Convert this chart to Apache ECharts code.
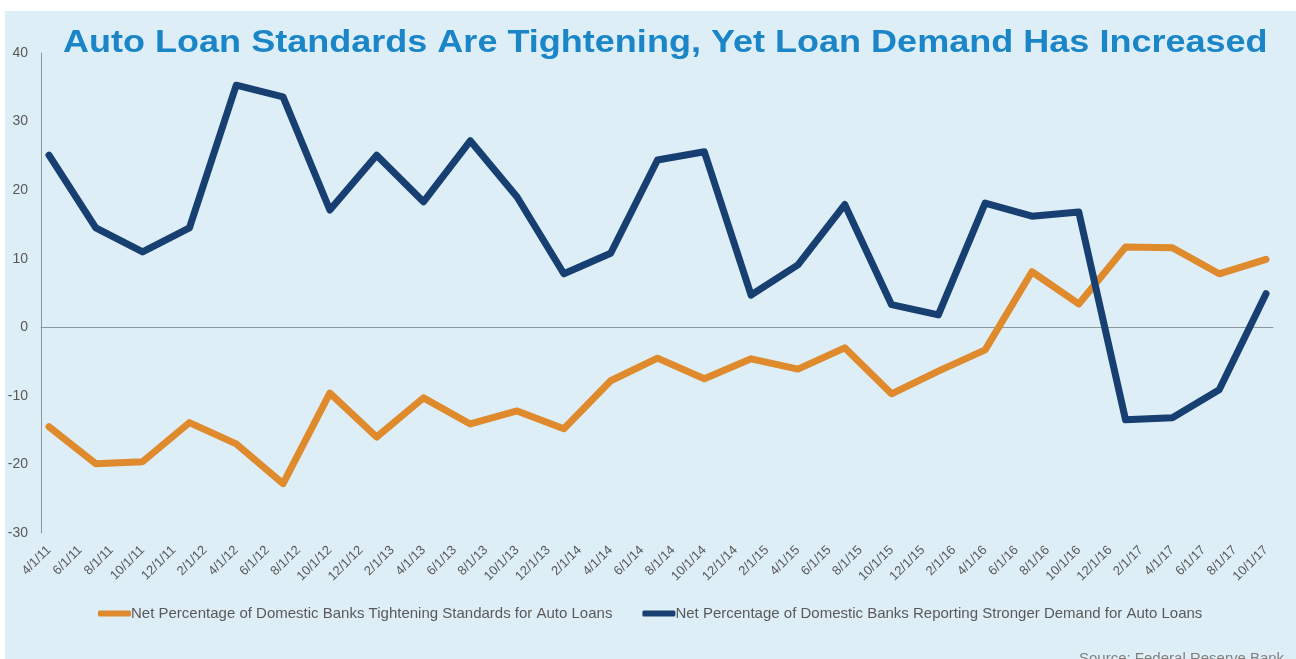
<!DOCTYPE html>
<html>
<head>
<meta charset="utf-8">
<script src="https://cdn.jsdelivr.net/npm/echarts@6/dist/echarts.min.js"></script>
<style>
html,body{margin:0;padding:0;background:#ffffff;}
#chart{width:1296px;height:659px;}
</style>
</head>
<body>
<div id="chart"></div>
<script>
// Quarterly survey dates (data points)
const dates = ['4/1/11','7/1/11','10/1/11','1/1/12','4/1/12','7/1/12','10/1/12','1/1/13','4/1/13','7/1/13','10/1/13','1/1/14','4/1/14','7/1/14','10/1/14','1/1/15','4/1/15','7/1/15','10/1/15','1/1/16','4/1/16','7/1/16','10/1/16','1/1/17','4/1/17','7/1/17','10/1/17'];
// Net % of domestic banks tightening standards for auto loans
const tightening = [-14.5,-19.9,-19.6,-13.9,-17.0,-22.8,-9.6,-16.0,-10.3,-14.1,-12.2,-14.8,-7.8,-4.5,-7.5,-4.6,-6.1,-3.0,-9.7,-6.4,-3.3,8.1,3.4,11.7,11.6,7.8,9.9];
// Net % of domestic banks reporting stronger demand for auto loans
const demand = [25.1,14.5,11.0,14.5,35.3,33.6,17.1,25.1,18.3,27.2,19.0,7.8,10.8,24.4,25.6,4.7,9.1,17.9,3.3,1.8,18.1,16.2,16.8,-13.5,-13.2,-9.1,4.9];
// Axis tick labels (every two months)
const tickLabels = ['4/1/11','6/1/11','8/1/11','10/1/11','12/1/11','2/1/12','4/1/12','6/1/12','8/1/12','10/1/12','12/1/12','2/1/13','4/1/13','6/1/13','8/1/13','10/1/13','12/1/13','2/1/14','4/1/14','6/1/14','8/1/14','10/1/14','12/1/14','2/1/15','4/1/15','6/1/15','8/1/15','10/1/15','12/1/15','2/1/16','4/1/16','6/1/16','8/1/16','10/1/16','12/1/16','2/1/17','4/1/17','6/1/17','8/1/17','10/1/17'];
const seriesNames = ['Net Percentage of Domestic Banks Tightening Standards for Auto Loans','Net Percentage of Domestic Banks Reporting Stronger Demand for Auto Loans'];

function monthIndex(s){
  const p = s.split('/').map(Number);
  return (p[2] - 11) * 12 + (p[0] - 4);
}
const labelByMonth = {};
tickLabels.forEach(function(t){ labelByMonth[monthIndex(t)] = t; });
const tickMonths = tickLabels.map(monthIndex);
const xMin = 0, xMax = monthIndex(dates[dates.length-1]);

const chart = echarts.init(document.getElementById('chart'));
const font = 'Liberation Sans, Arial, sans-serif';
chart.setOption({
  animation:false,
  backgroundColor:'#ffffff',
  textStyle:{fontFamily:font},
  graphic:[
    {type:'rect', z:-10, silent:true, shape:{x:5,y:11,width:1291,height:648}, style:{fill:'#deeef7'}},
    {type:'text', x:63, y:27, scaleX:1.126, style:{text:'Auto Loan Standards Are Tightening, Yet Loan Demand Has Increased', font:'bold 32px '+font, fill:'#1a85c7'}},
    {type:'text', left:1079, top:651, style:{text:'Source: Federal Reserve Bank', font:'15px '+font, fill:'#7f7f7f'}}
  ],
  legend:{
    left:93, top:601, itemWidth:33, itemHeight:6, itemGap:30,
    icon:'roundRect',
    textStyle:{fontSize:15, color:'#595959', fontFamily:font, padding:[0,0,0,-5]},
    data:seriesNames
  },
  grid:[
    {left:49, right:30, top:53, bottom:126},
    {left:41, right:23, top:53, bottom:126}
  ],
  xAxis:[
    {type:'value', gridIndex:0, min:xMin, max:xMax,
     axisLine:{show:false}, axisTick:{show:false}, splitLine:{show:false},
     axisLabel:{customValues:tickMonths, rotate:45, margin:15, fontSize:13, color:'#595959', fontFamily:font,
       formatter:function(v){ return labelByMonth[v] || ''; }}},
    {type:'value', gridIndex:1, min:0, max:1,
     axisLine:{show:true, onZero:true, lineStyle:{color:'#8a979f', width:1}},
     axisTick:{show:false}, axisLabel:{show:false}, splitLine:{show:false}}
  ],
  yAxis:[
    {type:'value', gridIndex:0, min:-30, max:40, interval:10,
     axisLine:{show:false},
     axisTick:{show:false}, splitLine:{show:false},
     axisLabel:{margin:21, fontSize:14, color:'#595959', fontFamily:font}},
    {type:'value', gridIndex:1, min:-30, max:40, interval:10,
     axisLine:{show:true, onZero:false, lineStyle:{color:'#8a979f', width:1}},
     axisTick:{show:false}, axisLabel:{show:false}, splitLine:{show:false}}
  ],
  series:[
    {name:seriesNames[0], type:'line', xAxisIndex:0, yAxisIndex:0, symbol:'none',
     color:'#df8a2c', lineStyle:{width:7, color:'#df8a2c', join:'round', cap:'round'},
     data:dates.map(function(d,i){ return [monthIndex(d), tightening[i]]; })},
    {name:seriesNames[1], type:'line', xAxisIndex:0, yAxisIndex:0, symbol:'none',
     color:'#173f71', lineStyle:{width:7, color:'#173f71', join:'round', cap:'round'},
     data:dates.map(function(d,i){ return [monthIndex(d), demand[i]]; })}
  ]
});
</script>
</body>
</html>
